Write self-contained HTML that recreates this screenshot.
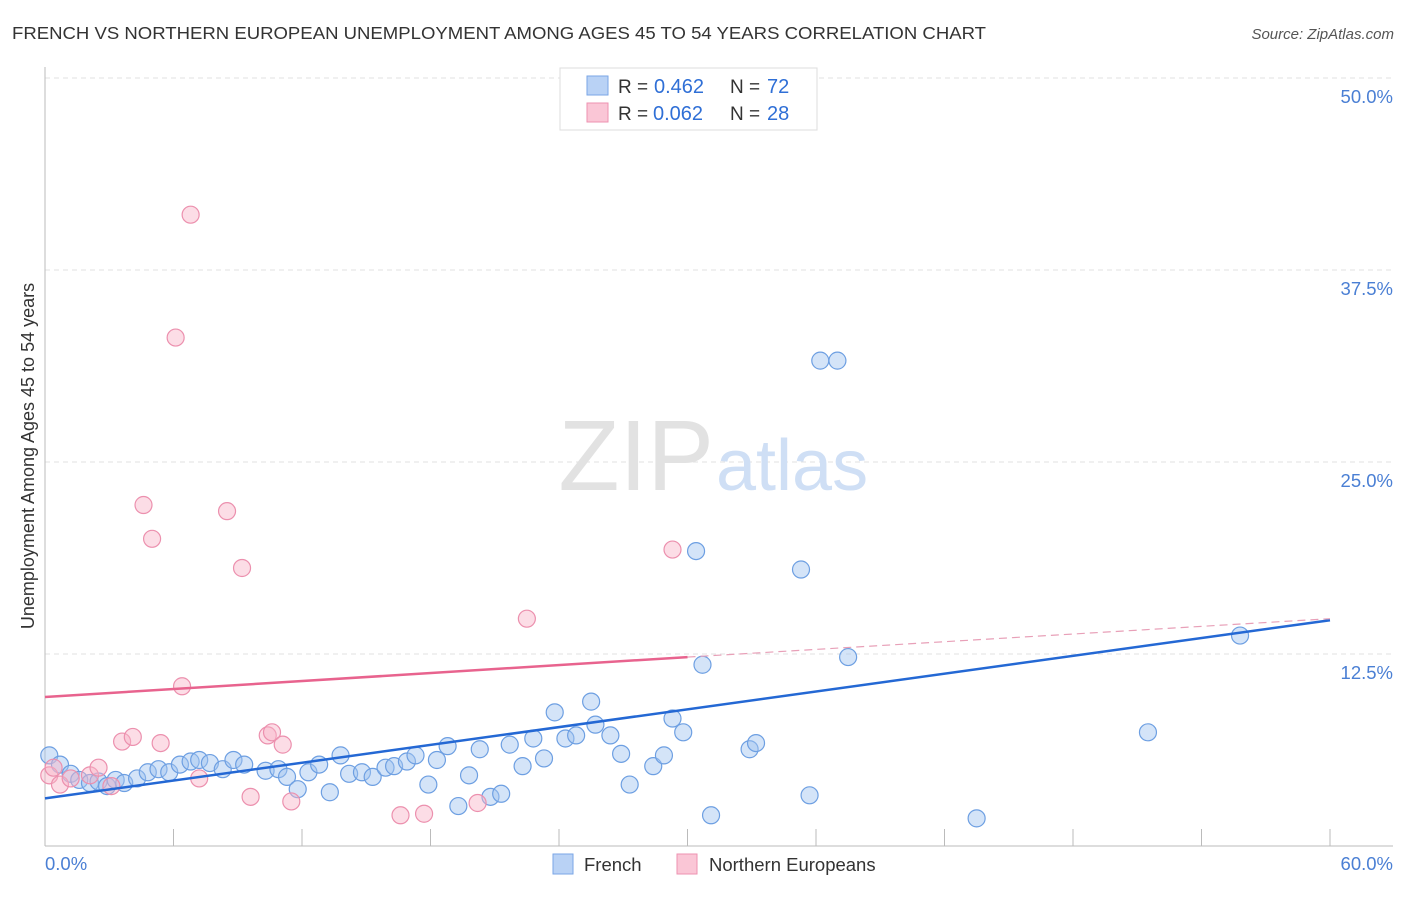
<!DOCTYPE html>
<html><head><meta charset="utf-8"><style>
body{margin:0;background:#fff;font-family:"Liberation Sans",sans-serif;}
svg text{font-family:"Liberation Sans",sans-serif;}
</style></head><body>
<svg id="chart" width="1406" height="892">
<text x="12" y="39" font-size="17.5" fill="#333" textLength="974" lengthAdjust="spacingAndGlyphs">FRENCH VS NORTHERN EUROPEAN UNEMPLOYMENT AMONG AGES 45 TO 54 YEARS CORRELATION CHART</text>
<text x="1394" y="39" font-size="15" fill="#555" text-anchor="end" font-style="italic">Source: ZipAtlas.com</text>
<g id="grid"></g>
<text x="714" y="490" font-size="100" fill="#e2e2e2" text-anchor="end" font-family="Liberation Serif">ZIP</text>
<text x="716" y="490" font-size="72" fill="#cfdff5">atlas</text>
<line x1="45" y1="67" x2="45" y2="846" stroke="#bbb"/>
<line x1="45" y1="846" x2="1393" y2="846" stroke="#bbb"/>
<text x="45" y="870" font-size="18.5" fill="#4a7fd4">0.0%</text>
<text x="1393" y="870" font-size="18.5" fill="#4a7fd4" text-anchor="end">60.0%</text>
<text transform="translate(34,456) rotate(-90)" font-size="18" fill="#333" text-anchor="middle">Unemployment Among Ages 45 to 54 years</text>
<g id="marks"></g>
<g>
<rect x="560" y="68" width="257" height="62" fill="#fff" stroke="#ddd"/>
<rect x="587" y="76" width="21" height="19" fill="#b9d2f5" stroke="#7aa6e6"/>
<rect x="587" y="103" width="21" height="19" fill="#fac6d6" stroke="#ee92b0"/>
<text x="618" y="93" font-size="19" fill="#333">R =</text>
<text x="654" y="93" font-size="20" fill="#2f6fd6">0.462</text>
<text x="730" y="93" font-size="19" fill="#333">N =</text>
<text x="767" y="93" font-size="20" fill="#2f6fd6">72</text>
<text x="618" y="120" font-size="19" fill="#333">R =</text>
<text x="653" y="120" font-size="20" fill="#2f6fd6">0.062</text>
<text x="730" y="120" font-size="19" fill="#333">N =</text>
<text x="767" y="120" font-size="20" fill="#2f6fd6">28</text>
</g>
<g>
<rect x="553" y="854" width="20" height="20" fill="#b9d2f5" stroke="#7aa6e6"/>
<text x="584" y="871" font-size="18.5" fill="#333">French</text>
<rect x="677" y="854" width="20" height="20" fill="#fac6d6" stroke="#ee92b0"/>
<text x="709" y="871" font-size="18.5" fill="#333">Northern Europeans</text>
</g>
</svg>
<script>
const yTicks=[12.5,25,37.5,50];
const yTickLabels=["12.5%","25.0%","37.5%","50.0%"];
const xTicks=[6,12,18,24,30,36,42,48,54,60];
const frenchX=[0.2,0.7,1.2,1.6,2.1,2.5,2.9,3.3,3.7,4.3,4.8,5.3,5.8,6.3,6.8,7.2,7.7,8.3,8.8,9.3,10.3,10.9,11.3,11.8,12.3,12.8,13.3,13.8,14.2,14.8,15.3,15.9,16.3,16.9,17.3,17.9,18.3,18.8,19.3,19.8,20.3,20.8,21.3,21.7,22.3,22.8,23.3,23.8,24.3,24.8,25.5,25.7,26.4,26.9,27.3,28.4,28.9,29.3,29.8,30.4,30.7,31.1,32.9,33.2,35.3,35.7,36.2,37.0,37.5,43.5,51.5,55.8];
const frenchY=[5.9,5.3,4.7,4.3,4.1,4.2,3.9,4.3,4.1,4.4,4.8,5.0,4.8,5.3,5.5,5.6,5.4,5.0,5.6,5.3,4.9,5.0,4.5,3.7,4.8,5.3,3.5,5.9,4.7,4.8,4.5,5.1,5.2,5.5,5.9,4.0,5.6,6.5,2.6,4.6,6.3,3.2,3.4,6.6,5.2,7.0,5.7,8.7,7.0,7.2,9.4,7.9,7.2,6.0,4.0,5.2,5.9,8.3,7.4,19.2,11.8,2.0,6.3,6.7,18.0,3.3,31.6,31.6,12.3,1.8,7.4,13.7];
const northX=[0.2,0.7,1.2,2.1,2.5,3.1,3.6,4.1,4.6,5.0,5.4,6.1,6.4,6.8,7.2,8.5,9.2,9.6,10.4,10.6,11.1,11.5,16.6,17.7,20.2,22.5,29.3,0.4];
const northY=[4.6,4.0,4.4,4.6,5.1,3.9,6.8,7.1,22.2,20.0,6.7,33.1,10.4,41.1,4.4,21.8,18.1,3.2,7.2,7.4,6.6,2.9,2.0,2.1,2.8,14.8,19.3,5.1];
const frenchLine=[0,3.1,60,14.7];
const northLine=[0,9.7,30,12.3,60,14.8];
const X=v=>45+v/60*1285, Y=v=>846-v/12.5*192;
const NS="http://www.w3.org/2000/svg";
const grid=document.getElementById('grid'), marks=document.getElementById('marks');
function mk(tag,a,parent){const e=document.createElementNS(NS,tag);for(const k in a)e.setAttribute(k,a[k]);parent.appendChild(e);return e;}
yTicks.forEach((t,i)=>{
 const l=mk('line',{x1:45,x2:1393,y1:Y(t),y2:Y(t),stroke:'#e2e2e2','stroke-dasharray':'5,4'},grid);
 
 
 const tx=mk('text',{x:1393,y:Y(t)+25,'font-size':18.5,fill:'#4a7fd4','text-anchor':'end'},grid);
 tx.textContent=yTickLabels[i];
 
 
});
xTicks.forEach(t=>{
 const l=mk('line',{x1:X(t),x2:X(t),y1:829,y2:846,stroke:'#bbb'},grid);
 
 
});
frenchX.forEach((x,i)=>{
 const c=mk('circle',{cx:X(x),cy:Y(frenchY[i]),r:8.5,fill:'rgba(160,195,240,0.45)',stroke:'#6d9fe2','stroke-width':1.2},marks);
 
 
});
northX.forEach((x,i)=>{
 const c=mk('circle',{cx:X(x),cy:Y(northY[i]),r:8.5,fill:'rgba(248,180,200,0.45)',stroke:'#ec90ae','stroke-width':1.2},marks);
 
 
});
const fl=mk('line',{x1:X(frenchLine[0]),y1:Y(frenchLine[1]),x2:X(frenchLine[2]),y2:Y(frenchLine[3]),stroke:'#2468d4','stroke-width':2.5},marks);


const nl=mk('line',{x1:X(northLine[0]),y1:Y(northLine[1]),x2:X(northLine[2]),y2:Y(northLine[3]),stroke:'#e8638e','stroke-width':2.5},marks);


const nd=mk('line',{x1:X(northLine[2]),y1:Y(northLine[3]),x2:X(northLine[4]),y2:Y(northLine[5]),stroke:'#e8a0b8','stroke-width':1.2,'stroke-dasharray':'8,5'},marks);


</script>
</body></html>
